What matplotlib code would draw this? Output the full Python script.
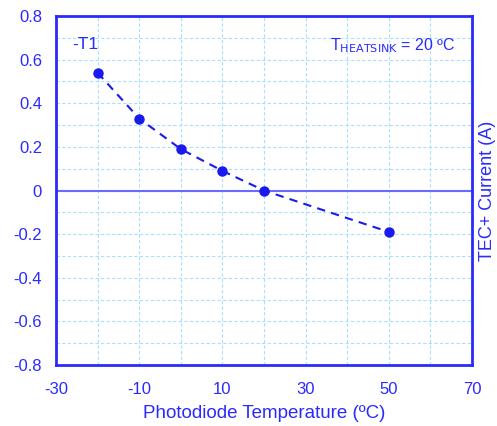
import matplotlib
matplotlib.use("Agg")
import matplotlib.pyplot as plt
from matplotlib.ticker import MultipleLocator

temps = [-20, -10, 0, 10, 20, 50]
current = [0.54, 0.33, 0.19, 0.09, 0.0, -0.19]
xticks = [-30, -10, 10, 30, 50, 70]
yticks = [-0.8, -0.6, -0.4, -0.2, 0, 0.2, 0.4, 0.6, 0.8]
ytick_labels = ["-0.8", "-0.6", "-0.4", "-0.2", "0", "0.2", "0.4", "0.6", "0.8"]

blue = "#2a2aff"
plt.rcParams['font.family'] = ['Liberation Sans', 'DejaVu Sans']
plt.rcParams['axes.unicode_minus'] = False

fig = plt.figure(figsize=(4.97, 4.26), dpi=100)
ax = fig.add_axes([56/497, 61/426, 416/497, 349/426])

ax.set_xlim(-30, 70)
ax.set_ylim(-0.8, 0.8)
ax.set_xticks(xticks)
ax.set_xticklabels([str(t) for t in xticks])
ax.set_yticks(yticks)
ax.set_yticklabels(ytick_labels)
ax.xaxis.set_minor_locator(MultipleLocator(10))
ax.yaxis.set_minor_locator(MultipleLocator(0.1))
ax.grid(which='both', color='#a8e0ff', linestyle=(0, (3, 2)), linewidth=0.8)
ax.set_axisbelow(True)
ax.tick_params(which='both', length=0, colors=blue, labelsize=12)
ax.tick_params(axis='x', pad=12)
ax.tick_params(axis='y', pad=10)
for s in ax.spines.values():
    s.set_color(blue)
    s.set_linewidth(2)

ax.axhline(0, color='#6a6aff', linewidth=1.5, zorder=2)
ax.plot(temps, current, color='#1a1aee', linestyle=(0, (4, 3)), linewidth=1.5,
        marker='o', markersize=6.5, zorder=3)

ax.set_xlabel("Photodiode Temperature (ºC)", color=blue, fontsize=13.5, labelpad=6)
ax.yaxis.set_label_position('right')
ax.set_ylabel("TEC+ Current (A)", color=blue, fontsize=13, labelpad=5)

ax.text(-26.2, 0.67, "-T1", color=blue, fontsize=12.5, va='center', ha='left')
ax.text(66, 0.665, r"T$_{\mathrm{HEATSINK}}$ = 20 ºC", color=blue, fontsize=11.5,
        va='center', ha='right')

fig.savefig("out.png", dpi=100)
